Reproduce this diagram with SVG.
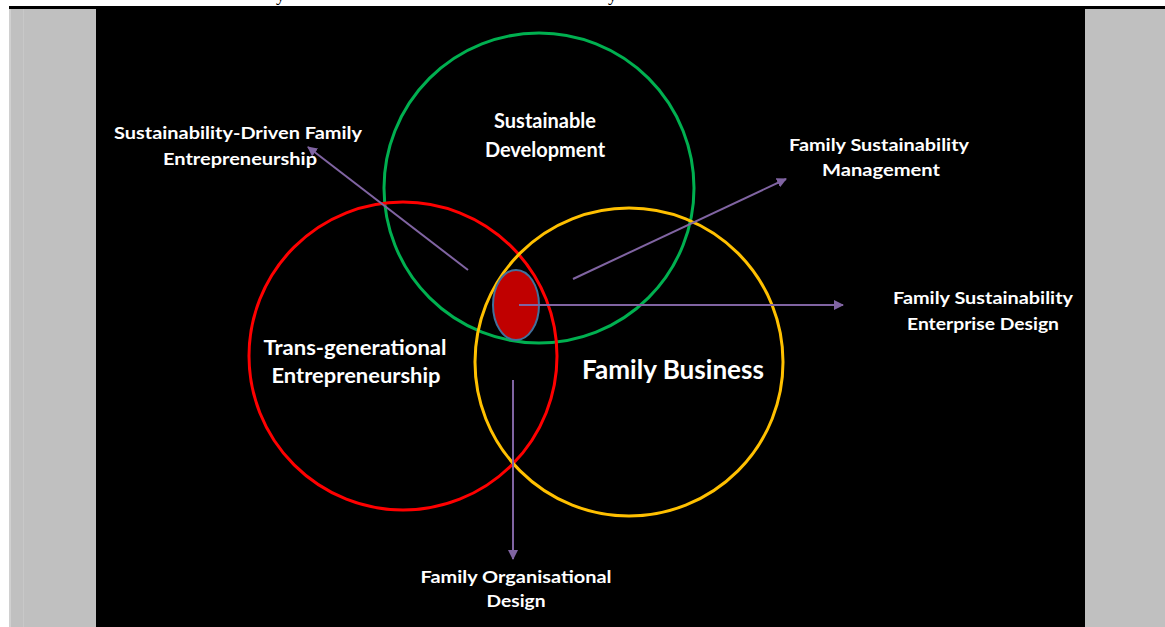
<svg xmlns="http://www.w3.org/2000/svg" width="1165" height="627" viewBox="0 0 1165 627">
<style>
.lbl{font-family:Lato,"Open Sans","Liberation Sans",sans-serif;font-weight:bold;fill:#ffffff;text-anchor:middle}
.s17{font-size:17px}
.s20{font-size:20px}
.s26{font-size:26px}
.ring{fill:none;stroke-width:3}
.conn{stroke:#8064A2;stroke-width:2;fill:none;marker-end:url(#ah)}
.cut{font-family:"Liberation Serif",serif;font-size:18px;fill:#000000}
</style>
<defs>
<marker id="ah" viewBox="0 0 10 10" refX="9" refY="5" markerWidth="5" markerHeight="5" orient="auto" markerUnits="strokeWidth">
<path d="M0,0 L10,5 L0,10 z" fill="#8064A2"/>
</marker>
</defs>
<rect x="0" y="0" width="1165" height="627" fill="#ffffff"/>
<g id="frame">
<rect x="9" y="6" width="1156" height="621" fill="#000000"/>
<rect x="9" y="9" width="87" height="618" fill="#C0C0C0"/>
<rect x="9" y="9" width="2" height="618" fill="#D0D0D0"/>
<rect x="23" y="9" width="1" height="618" fill="#C8C8C8"/>
<rect x="1085" y="9" width="80" height="618" fill="#C0C0C0"/>
<text class="cut" x="276" y="1">y</text>
<text class="cut" x="608" y="1">y</text>
</g>
<g id="sustainable-development">
<circle class="ring" cx="539" cy="188" r="155" stroke="#00B050"/>
<text class="lbl s20" x="545" y="128">Sustainable</text>
<text class="lbl s20" x="545" y="157">Development</text>
</g>
<g id="trans-generational">
<circle class="ring" cx="403" cy="356" r="154" stroke="#FF0000"/>
<text class="lbl s20" x="355" y="355" textLength="183" lengthAdjust="spacingAndGlyphs">Trans-generational</text>
<text class="lbl s20" x="356" y="383" textLength="169" lengthAdjust="spacingAndGlyphs">Entrepreneurship</text>
</g>
<g id="family-business">
<circle class="ring" cx="629" cy="362" r="154" stroke="#FFC000"/>
<text class="lbl s26" x="673" y="379" textLength="182" lengthAdjust="spacingAndGlyphs">Family Business</text>
</g>
<g id="core">
<ellipse cx="516" cy="305" rx="23" ry="35" fill="#C00000" stroke="#41719C" stroke-width="2"/>
</g>
<g id="connectors">
<line class="conn" x1="468" y1="270" x2="308" y2="147"/>
<line class="conn" x1="573" y1="279" x2="786" y2="179"/>
<line class="conn" x1="519" y1="305" x2="843" y2="305"/>
<line class="conn" x1="513" y1="380" x2="513" y2="559"/>
</g>
<g id="sdfe">
<text class="lbl s17" x="238" y="139" textLength="248" lengthAdjust="spacingAndGlyphs">Sustainability-Driven  Family</text>
<text class="lbl s17" x="240" y="165" textLength="154" lengthAdjust="spacingAndGlyphs">Entrepreneurship</text>
</g>
<g id="fsm">
<text class="lbl s17" x="879" y="151" textLength="180" lengthAdjust="spacingAndGlyphs">Family Sustainability</text>
<text class="lbl s17" x="881" y="176" textLength="118" lengthAdjust="spacingAndGlyphs">Management</text>
</g>
<g id="fsed">
<text class="lbl s17" x="983" y="304" textLength="180" lengthAdjust="spacingAndGlyphs">Family Sustainability</text>
<text class="lbl s17" x="983" y="330" textLength="152" lengthAdjust="spacingAndGlyphs">Enterprise Design</text>
</g>
<g id="fod">
<text class="lbl s17" x="516" y="583" textLength="191" lengthAdjust="spacingAndGlyphs">Family Organisational</text>
<text class="lbl s17" x="516" y="607" textLength="59" lengthAdjust="spacingAndGlyphs">Design</text>
</g>
</svg>
